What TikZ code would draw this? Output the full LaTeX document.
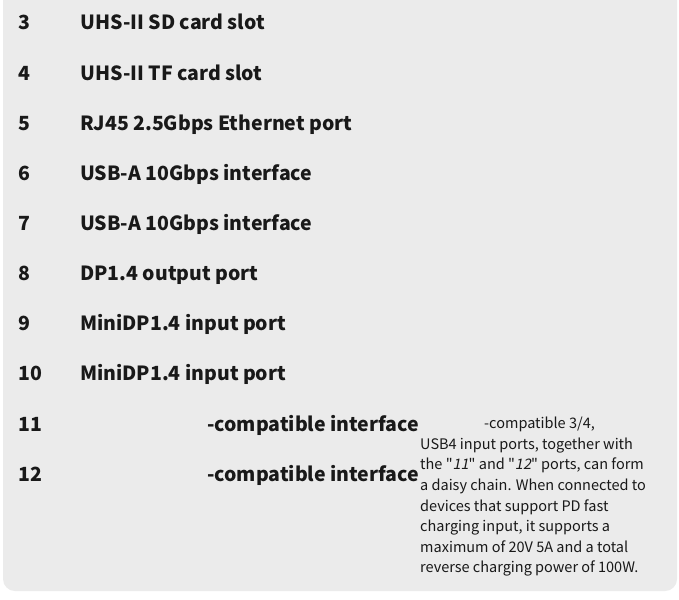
\documentclass[tikz,border=0pt]{standalone}
\usepackage{fontspec}
\setmainfont{Noto Sans CJK SC}
\newcommand{\sq}{{\addfontfeature{Mapping=}\symbol{"22}}}
\newcommand{\slit}[1]{{\addfontfeature{FakeSlant=0.2}#1}}
\begin{document}
\begin{tikzpicture}[x=1pt,y=-1pt,
  num/.style={anchor=base west,font=\fontsize{19.5}{22}\selectfont\bfseries,text=black!90,inner sep=0},
  lab/.style={anchor=base west,font=\fontsize{19.5}{22}\selectfont\bfseries,text=black!90,inner sep=0},
  para/.style={anchor=north west,align=left,font=\fontsize{14.5}{20.6}\selectfont,text=black!90,inner sep=0}]
\useasboundingbox (0,0) rectangle (679,599);
\fill[white] (0,0) rectangle (679,599);
\definecolor{panel}{HTML}{EBEBEB}
\fill[panel,rounded corners=12] (3,-20) rectangle (677,591);
\foreach \n/\t [count=\i from 0] in {3/UHS-II SD card slot,4/UHS-II TF card slot,5/RJ45 2.5Gbps Ethernet port,6/USB-A 10Gbps interface,7/USB-A 10Gbps interface,8/DP1.4 output port,9/MiniDP1.4 input port,10/MiniDP1.4 input port}{
  \node[num] (n\n) at (18,{30+50.1*\i}) {\n};
  \node[lab] (l\n) at (80,{30+50.1*\i}) {\t};
}
\node[num] (n11) at (18,431) {11};
\node[lab] (l11) at (207,431) {-compatible interface};
\node[num] (n12) at (18,481) {12};
\node[lab] (l12) at (207,481) {-compatible interface};
\node[para] (p) at (420,417) {\hspace*{64pt}-compatible 3/4,\\USB4 input ports, together with\\the \sq\slit{11}\sq{} and \sq\slit{12}\sq{} ports, can form\\a daisy chain. When connected to\\devices that support PD fast\\charging input, it supports a\\maximum of 20V 5A and a total\\reverse charging power of 100W.};
\end{tikzpicture}
\end{document}
